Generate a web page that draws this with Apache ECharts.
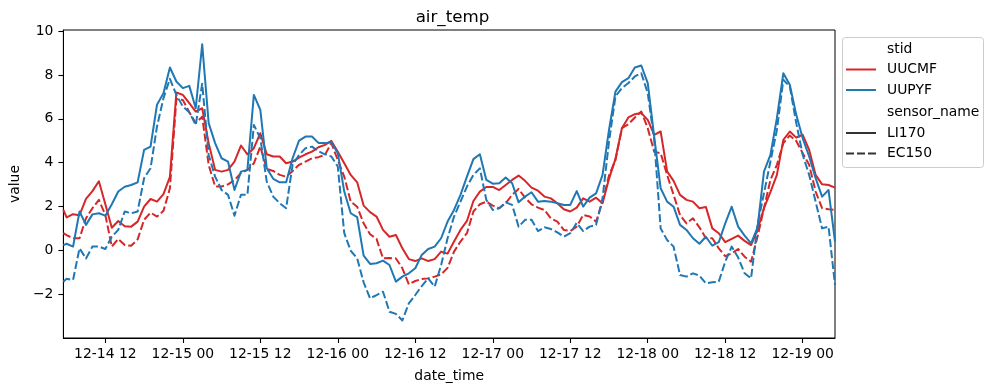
<!DOCTYPE html>
<html>
<head>
<meta charset="utf-8">
<title>air_temp</title>
<script src="https://cdn.jsdelivr.net/npm/echarts@6/dist/echarts.min.js"></script>
<style>
  html, body { margin: 0; padding: 0; background: #fff; }
  #chart { width: 993px; height: 391px; }
</style>
</head>
<body>
<div id="chart"></div>
<script>
// hours counted from 12-14 00:00, first sample 05:30 then hourly to 12-19 05:00
const hours = [5.5];
for (let h = 6; h <= 125; h++) hours.push(h);

const tickHours = [12, 24, 36, 48, 60, 72, 84, 96, 108, 120];
const valueTicks = [-2, 0, 2, 4, 6, 8, 10];

const ucmfLI170 = [
  1.84, 1.5, 1.65, 1.6, 2.35, 2.7, 3.15, 2.1, 1.03, 1.34,
  1.1, 1.08, 1.31, 1.99, 2.34, 2.22, 2.56, 3.35, 7.2, 7.09,
  6.71, 6.33, 6.48, 4.89, 3.67, 3.59, 3.67, 4.05, 4.78, 4.38,
  4.66, 5.34, 4.38, 4.28, 4.28, 3.97, 4.05, 4.23, 4.38, 4.5,
  4.7, 4.81, 4.99, 4.5, 3.97, 3.44, 3.1, 2.04, 1.74, 1.54,
  0.93, 0.62, 0.7, 0.09, -0.4, -0.49, -0.37, -0.49, -0.4, -0.06,
  -0.15, 0.4, 0.93, 1.34, 2.25, 2.68, 2.89, 2.89, 2.75, 2.98,
  3.21, 3.41, 3.17, 2.86, 2.72, 2.45, 2.37, 2.15, 1.87, 1.77,
  1.95, 2.37, 2.22, 2.4, 2.15, 3.26, 4.17, 5.57, 6.06, 6.21,
  6.26, 5.95, 5.27, 5.42, 3.6, 3.17, 2.53, 2.3, 2.22, 1.92,
  1.98, 1.0, 0.78, 0.37, 0.52, 0.67, 0.43, 0.24, 0.93, 1.92,
  2.65, 3.44, 5.04, 5.42, 5.14, 5.27, 4.58, 3.44, 3.01, 2.98,
  2.86
];
const ucmfEC150 = [
  0.78, 0.69, 0.55, 0.55, 1.46, 1.92, 2.3, 1.61, 0.17, 0.52,
  0.24, 0.21, 0.5, 1.39, 1.72, 1.54, 1.8, 2.83, 6.9, 6.86,
  6.3, 5.8, 6.1, 3.9, 2.91, 2.91, 3.01, 3.2, 3.52, 3.67,
  3.97, 4.73, 3.71, 3.62, 3.44, 3.36, 3.62, 3.9, 4.05, 4.2,
  4.25, 4.35, 4.89, 4.12, 3.36, 2.22, 1.99, 1.23, 0.73, 0.52,
  -0.37, -0.35, -0.37, -0.82, -1.55, -1.4, -1.31, -1.28, -1.2, -1.1,
  -0.8, -0.06, 0.4, 0.78, 1.77, 2.1, 2.22, 2.04, 1.92, 2.15,
  2.53, 2.8, 2.4, 2.1, 1.95, 1.84, 1.46, 1.31, 0.93, 0.88,
  1.08, 1.61, 1.54, 1.31, 2.22, 3.41, 4.12, 5.57, 5.75, 6.06,
  6.33, 5.57, 4.5, 4.43, 3.44, 2.53, 1.61, 1.23, 1.46, 1.05,
  0.55, 0.55, 0.09, -0.27, -0.14, 0.06, -0.29, -0.52, 0.62, 1.92,
  3.21, 3.9, 4.89, 5.24, 4.99, 4.43, 3.9, 2.68, 1.92, 1.87,
  1.84
];
const upyfLI170 = [
  0.24, 0.3, 0.17, 1.77, 1.16, 1.64, 1.69, 1.58, 2.1, 2.68,
  2.9, 2.98, 3.1, 4.58, 4.73, 6.64, 7.17, 8.34, 7.7, 7.4,
  7.5, 6.48, 9.4, 5.8, 4.89, 4.2, 4.05, 2.75, 3.59, 3.67,
  7.09, 6.41, 3.74, 3.26, 3.1, 3.1, 4.2, 5.0, 5.19, 5.19,
  4.9, 4.89, 4.93, 4.43, 2.68, 1.69, 1.51, -0.24, -0.62, -0.59,
  -0.47, -0.67, -1.43, -1.2, -1.05, -0.82, -0.21, 0.06, 0.17, 0.55,
  1.31, 1.84, 2.53, 3.36, 4.16, 4.38, 3.21, 3.04, 3.06, 3.32,
  3.06, 2.19, 2.45, 2.65, 2.22, 2.25, 2.22, 2.15, 2.07, 2.07,
  2.7, 1.99, 2.4, 2.6, 3.44, 5.49, 7.24, 7.67, 7.85, 8.34,
  8.43, 7.63, 5.19, 2.83, 2.22, 1.99, 1.16, 0.93, 0.55, 0.3,
  0.62, 0.21, 0.37, 1.23, 1.99, 1.08, 0.67, 0.32, 1.03, 3.59,
  4.35, 6.03, 8.08, 7.55, 6.18, 5.11, 4.28, 3.29, 2.45, 2.75,
  0.4
];
const upyfEC150 = [
  -1.43, -1.3, -1.35, 0.09, -0.37, 0.17, 0.17, 0.06, 0.62, 0.93,
  1.77, 1.69, 1.77, 3.29, 3.74, 5.65, 6.94, 7.82, 7.09, 6.56,
  6.3, 5.72, 7.6, 4.35, 3.36, 2.75, 2.53, 1.58, 2.53, 2.53,
  5.72, 5.11, 3.13, 2.45, 2.15, 1.92, 3.9, 4.35, 4.66, 4.73,
  4.52, 4.38, 4.28, 3.82, 0.78, -0.02, -0.37, -1.46, -2.19, -2.04,
  -1.89, -2.8, -2.9, -3.2, -2.42, -2.04, -1.63, -1.28, -1.66, -0.67,
  0.55, 1.54, 2.22, 2.91, 3.44, 3.74, 2.3, 1.84, 1.92, 2.19,
  2.07, 1.08, 1.39, 1.39, 0.88, 1.05, 0.97, 0.82, 0.62, 0.78,
  1.25, 0.88, 1.08, 1.16, 2.37, 4.96, 7.02, 7.4, 7.63, 7.93,
  8.08, 7.17, 5.04, 1.0, 0.47, 0.17, -1.13, -1.2, -1.05, -1.15,
  -1.51, -1.46, -1.43, -0.52, 0.17, -0.33, -1.05, -1.28, 1.16, 2.6,
  4.05, 5.49, 7.78, 7.47, 5.8, 4.35, 3.44, 2.22, 1.0, 1.08,
  -1.58
];

const RED = "#d62728";
const BLUE = "#1f77b4";
const DARK = "#333333";
const FONT = "DejaVu Sans";
const DASH = [8, 3];

const pairs = values => hours.map((h, i) => [h, values[i]]);

const lineSeries = (name, values, color, dashed) => ({
  name: name,
  type: "line",
  data: pairs(values),
  showSymbol: false,
  symbol: "none",
  lineStyle: { color: color, width: 2, type: dashed ? DASH : "solid", join: "round" },
  emphasis: { disabled: true }
});

const dateLabel = v => {
  const day = 14 + Math.floor(v / 24);
  const hh = v % 24;
  return `12-${day} ${hh < 10 ? "0" + hh : hh}`;
};

// legend box drawn by hand (seaborn style with sub-headers)
const legendRows = [
  { text: "stid", y: 49 },
  { text: "UUCMF", y: 69.5, color: RED },
  { text: "UUPYF", y: 90, color: BLUE },
  { text: "sensor_name", y: 112 },
  { text: "LI170", y: 133, color: DARK },
  { text: "EC150", y: 153.5, color: DARK, dashed: true }
];
const legendGraphic = [
  {
    type: "rect",
    shape: { x: 842.5, y: 37.5, width: 141, height: 130, r: 3 },
    style: { fill: "rgba(255,255,255,0.8)", stroke: "#cccccc", lineWidth: 1 }
  }
];
legendRows.forEach(row => {
  if (row.color) {
    legendGraphic.push({
      type: "line",
      shape: { x1: 846, y1: row.y, x2: 876, y2: row.y },
      style: { stroke: row.color, lineWidth: 2, lineDash: row.dashed ? DASH : null }
    });
  }
  legendGraphic.push({
    type: "text",
    x: 887,
    y: row.y,
    style: { text: row.text, fill: "#000", fontSize: 13.9, fontFamily: FONT, verticalAlign: "middle" }
  });
});

const axisLine = { show: true, onZero: false, lineStyle: { color: "#000", width: 1 } };
const axisTick = ticks => ({ show: true, length: 5, lineStyle: { color: "#000", width: 1.1 }, customValues: ticks });

const chart = echarts.init(document.getElementById("chart"), null, { renderer: "canvas" });
chart.setOption({
  animation: false,
  backgroundColor: "#fff",
  title: {
    text: "air_temp",
    left: 447.5,
    top: 4,
    textAlign: "center",
    textStyle: { fontFamily: FONT, fontSize: 16.7, fontWeight: "normal", color: "#000" }
  },
  grid: {
    left: 60, right: 158, top: 30, bottom: 53,
    show: true, borderColor: "#000", borderWidth: 1, backgroundColor: "transparent"
  },
  xAxis: {
    type: "value",
    min: 5.5,
    max: 125,
    name: "date_time",
    nameLocation: "middle",
    nameGap: 31,
    nameTextStyle: { fontFamily: FONT, fontSize: 13.9, color: "#000" },
    axisLine: axisLine,
    axisTick: axisTick(tickHours),
    axisLabel: {
      margin: 9, fontFamily: FONT, fontSize: 13.9, color: "#000",
      customValues: tickHours, formatter: dateLabel
    },
    splitLine: { show: false }
  },
  yAxis: {
    type: "value",
    min: -4,
    max: 10.05,
    name: "value",
    nameLocation: "middle",
    nameRotate: 90,
    nameGap: 34,
    nameTextStyle: { fontFamily: FONT, fontSize: 13.9, color: "#000" },
    axisLine: axisLine,
    axisTick: axisTick(valueTicks),
    axisLabel: {
      margin: 10, fontFamily: FONT, fontSize: 13.9, color: "#000",
      customValues: valueTicks,
      formatter: v => (v < 0 ? "\u2212" + Math.abs(v) : String(v))
    },
    splitLine: { show: false }
  },
  series: [
    lineSeries("UUCMF LI170", ucmfLI170, RED, false),
    lineSeries("UUCMF EC150", ucmfEC150, RED, true),
    lineSeries("UUPYF LI170", upyfLI170, BLUE, false),
    lineSeries("UUPYF EC150", upyfEC150, BLUE, true)
  ],
  graphic: legendGraphic
});
</script>
</body>
</html>
